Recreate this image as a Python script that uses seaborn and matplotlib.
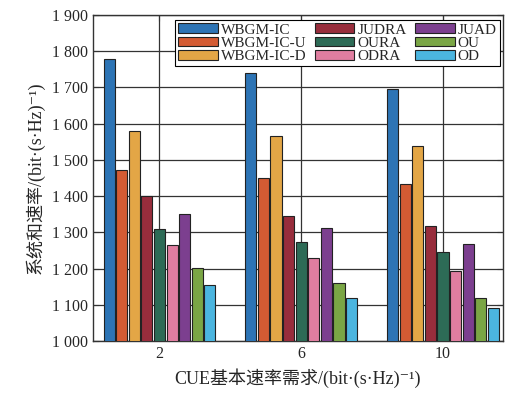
import numpy as np
import pandas as pd
import matplotlib
matplotlib.use("Agg")
import matplotlib.pyplot as plt
import seaborn as sns

requirements = ["2", "6", "10"]
methods = ["WBGM-IC", "WBGM-IC-U", "WBGM-IC-D", "JUDRA", "OURA", "ODRA", "JUAD", "OU", "OD"]
values = {
    "WBGM-IC":   [1779, 1740, 1695],
    "WBGM-IC-U": [1472, 1451, 1433],
    "WBGM-IC-D": [1581, 1565, 1538],
    "JUDRA":     [1400, 1344, 1317],
    "OURA":      [1310, 1273, 1245],
    "ODRA":      [1265, 1228, 1194],
    "JUAD":      [1351, 1311, 1267],
    "OU":        [1201, 1159, 1118],
    "OD":        [1155, 1120, 1090],
}
colors = ["#2D74B5", "#D35B33", "#E3A646", "#982D3C", "#2D6B56",
          "#E07EA0", "#7C3F8F", "#7AA645", "#4BB5DF"]
yticks = [1000, 1100, 1200, 1300, 1400, 1500, 1600, 1700, 1800, 1900]
ytick_labels = ["1 000", "1 100", "1 200", "1 300", "1 400", "1 500", "1 600", "1 700", "1 800", "1 900"]

rows = []
for m in methods:
    for r, v in zip(requirements, values[m]):
        rows.append({"req": r, "rate": v, "method": m})
df = pd.DataFrame(rows)

sns.set_style("ticks")
plt.rcParams["font.family"] = ["Liberation Serif", "Noto Sans CJK SC", "DejaVu Sans"]
plt.rcParams["axes.unicode_minus"] = False

fig = plt.figure(figsize=(5.07, 3.99), dpi=100)
ax = fig.add_axes([0.1834, 0.1454, 0.8086, 0.817])

sns.barplot(data=df, x="req", y="rate", hue="method", order=requirements,
            hue_order=methods, palette=colors, saturation=1, width=0.8, gap=0.12,
            edgecolor="#222222", linewidth=0.8, ax=ax, zorder=3)

ax.set_ylim(1000, 1900)
ax.set_xlim(-0.469, 2.423)
ax.set_yticks(yticks)
ax.set_yticklabels(ytick_labels)
ax.grid(True, color="#333333", linewidth=0.9, zorder=0)
ax.set_axisbelow(True)
for s in ax.spines.values():
    s.set_color("#333333")
    s.set_linewidth(1.0)
ax.tick_params(direction="in", top=True, right=True, labelsize=11.5, length=4, color="#333333")
ax.set_xlabel("CUE基本速率需求/(bit·(s·Hz)⁻¹)", fontsize=13, labelpad=5)
ax.set_ylabel("系统和速率/(bit·(s·Hz)⁻¹)", fontsize=13, labelpad=5)

leg = ax.legend(ncol=3, loc="upper right", bbox_to_anchor=(1.0, 0.993), fontsize=11,
                frameon=True, fancybox=False, edgecolor="black", framealpha=1,
                handlelength=2.6, handleheight=0.6, handletextpad=0.2,
                columnspacing=0.55, labelspacing=0.0, borderpad=0.2, borderaxespad=0.2)
leg.get_frame().set_linewidth(0.8)

fig.savefig("out.png", dpi=100)
